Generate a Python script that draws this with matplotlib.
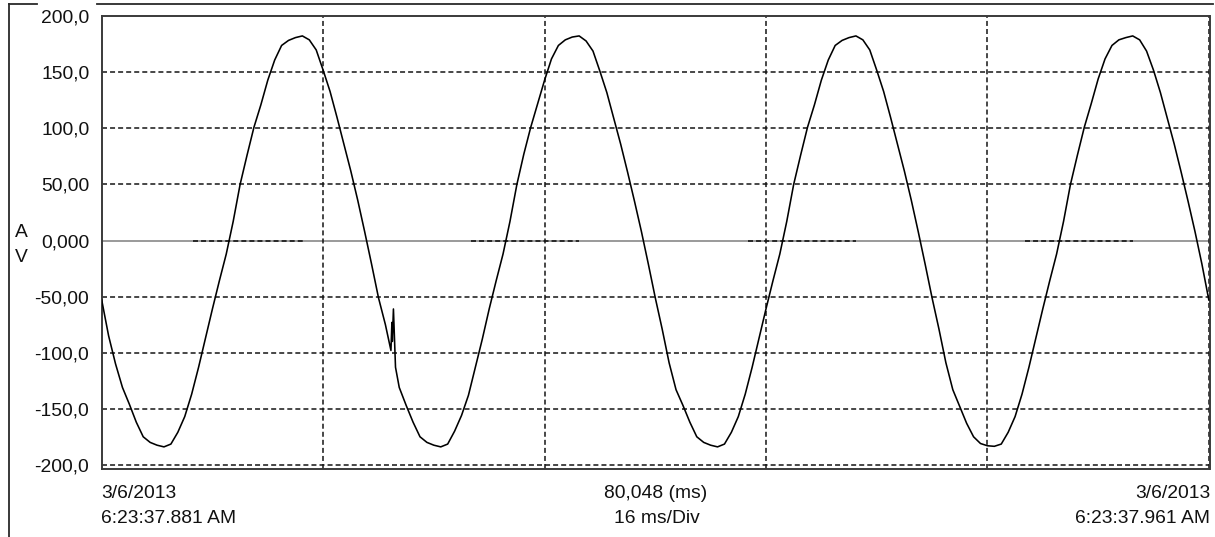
import numpy as np
import matplotlib
matplotlib.use("Agg")
import matplotlib.pyplot as plt
from matplotlib.lines import Line2D

plt.rcParams['font.family'] = ['Liberation Sans', 'DejaVu Sans']
plt.rcParams['lines.scale_dashes'] = False

W, H, DPI = 1215, 537, 100

# ---------------------------------------------------------------- data
# Voltage trace (V), one sample every 0.5 ms from 0 ms to 80 ms
sample_step_ms = 0.5
voltage = [
    # 0.0 .. 9.0 ms
    -53, -85, -110, -131, -146, -162, -175, -180, -182.5, -184,
    -181.5, -171, -157, -137, -113, -87, -61, -36, -12,
    # 9.5 .. 19.0 ms
    17, 50, 76, 101, 121, 143, 161, 174, 178.5, 181,
    182.5, 179, 170, 152, 133, 110, 86, 62, 36, 8,
    # 19.5 .. 29.0 ms
    -21, -51, -75, -90, -131, -147, -162, -175, -180, -182.5,
    -184, -181.5, -170, -156, -138, -113, -88, -61, -36, -12,
    # 29.5 .. 39.0 ms
    17, 50, 77, 101, 122, 143, 162, 174, 179, 181.5,
    182.5, 178, 169, 151, 132, 109, 86, 61, 35, 8,
    # 39.5 .. 49.0 ms
    -21, -51, -79, -109, -133, -147, -162, -175, -180, -182.5,
    -184, -181.5, -171, -157, -137, -113, -87, -61, -36, -12,
    # 49.5 .. 59.0 ms
    17, 50, 76, 101, 121, 143, 161, 174, 178.5, 181,
    182.5, 179, 170, 152, 133, 110, 86, 62, 36, 8,
    # 59.5 .. 69.0 ms
    -21, -51, -79, -109, -133, -148, -163, -175, -181, -183,
    -183.5, -181.5, -171, -157, -137, -113, -87, -61, -36, -12,
    # 69.5 .. 79.0 ms
    17, 50, 76, 101, 122, 144, 162, 174, 179, 181,
    182.5, 179, 169, 152, 132, 109, 86, 61, 35, 8,
    # 79.5 .. 80.0 ms
    -21, -53,
]

# Short transient on the falling edge around 21 ms
transient_ms = [20.90, 20.97, 21.08, 21.23]
transient_v = [-98, -73, -61, -113]

# Current channel: intervals where the trace is drawn at 0 A
current_start_ms = [6.6, 26.7, 46.7, 66.7]
current_end_ms = [14.6, 34.5, 54.5, 74.5]

span_ms = 80.048
div_ms = 16
y_ticks = [200, 150, 100, 50, 0, -50, -100, -150, -200]
y_tick_labels = ["200,0", "150,0", "100,0", "50,00", "0,000",
                 "-50,00", "-100,0", "-150,0", "-200,0"]
grid_y = [150, 100, 50, -50, -100, -150, -200]

# ---------------------------------------------------------------- figure
fig = plt.figure(figsize=(W / DPI, H / DPI), dpi=DPI)
fig.patch.set_facecolor("white")

ax_left, ax_right, ax_top, ax_bottom = 101.7, 1209.5, 16.3, 469.3
ax = fig.add_axes([ax_left / W, 1 - ax_bottom / H,
                   (ax_right - ax_left) / W, (ax_bottom - ax_top) / H])
ax.set_xlim(0, span_ms)
ax.set_ylim(-204, 200)

dash = (0, (3.6, 2.2))
grid_kw = dict(color="#151515", lw=1.1, ls=dash, zorder=2)

# zero reference line
ax.axhline(0, color="#9a9a9a", lw=1.4, zorder=1.5)

for yv in grid_y:
    ax.axhline(yv, **grid_kw)
for xv in np.arange(div_ms, span_ms, div_ms):
    ax.axvline(xv, **grid_kw)

# current channel segments at zero
for s, e in zip(current_start_ms, current_end_ms):
    ax.plot([s, e], [0, 0], color="#151515", lw=1.2, ls=dash, zorder=2.5)

# voltage trace with the transient merged in
t = np.arange(len(voltage)) * sample_step_ms
tt = np.concatenate([t, transient_ms])
vv = np.concatenate([voltage, transient_v])
order = np.argsort(tt, kind="stable")
ax.plot(tt[order], vv[order], color="black", lw=1.15, zorder=3)

fs = 13.9
tc = "#111111"

ax.set_xticks([])
ax.set_yticks(y_ticks)
ax.set_yticklabels(y_tick_labels)
ax.tick_params(axis="y", length=0, pad=(ax_left - 89.3) * 72 / DPI,
               labelsize=fs, labelcolor=tc)
for sp in ax.spines.values():
    sp.set_color("#3a3a3a")
    sp.set_linewidth(1.4)


def fxy(x, y):
    return x / W, 1 - y / H


# axis unit labels
fig.text(*fxy(21, 237), "A", ha="center", va="baseline", fontsize=fs, color=tc)
fig.text(*fxy(21, 262), "V", ha="center", va="baseline", fontsize=fs, color=tc)

# time axis annotations
fig.text(*fxy(101, 498.3), "3/6/2013", ha="left", va="baseline", fontsize=fs, color=tc)
fig.text(*fxy(101, 523.3), "6:23:37.881 AM", ha="left", va="baseline", fontsize=fs, color=tc)
fig.text(*fxy(656, 498.3), "80,048 (ms)", ha="center", va="baseline", fontsize=fs, color=tc)
fig.text(*fxy(657, 523.3), "16 ms/Div", ha="center", va="baseline", fontsize=fs, color=tc)
fig.text(*fxy(1210, 498.3), "3/6/2013", ha="right", va="baseline", fontsize=fs, color=tc)
fig.text(*fxy(1210, 523.3), "6:23:37.961 AM", ha="right", va="baseline", fontsize=fs, color=tc)

# outer panel frame (top edge interrupted by the top label)
frame_kw = dict(color="#2a2a2a", lw=1.3, transform=fig.transFigure)
fig.add_artist(Line2D([9 / W, 9 / W], [1 - 4 / H, 0], **frame_kw))
fig.add_artist(Line2D([9 / W, 37 / W], [1 - 4 / H, 1 - 4 / H], **frame_kw))
fig.add_artist(Line2D([97 / W, 1213 / W], [1 - 4 / H, 1 - 4 / H], **frame_kw))

fig.savefig("out.png", dpi=DPI, facecolor="white")
